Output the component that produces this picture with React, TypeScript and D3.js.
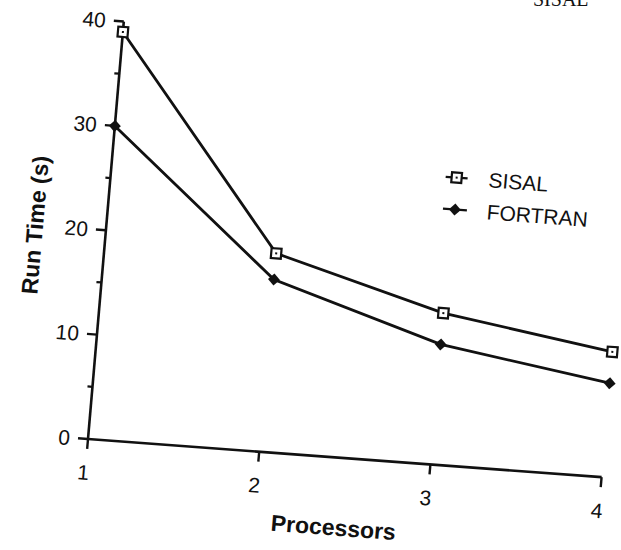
import * as d3 from 'd3';

const processors = [1, 2, 3, 4];
const sisalTimes = [39, 19, 14.5, 12];
const fortranTimes = [30, 16.5, 11.5, 9];
const yTicks = [0, 10, 20, 30, 40];
const yMinorTicks = [5, 15, 25, 35];
const xTicks = [1, 2, 3, 4];

// the scanned figure is slightly tilted, so the plot sits in a skewed frame
const origin = { x: 88, y: 439 };
const xLen = 515;
const yLen = 419;
const xAngle = (4.25 * Math.PI) / 180;
const yAngle = (4.9 * Math.PI) / 180;
const frame = `matrix(${Math.cos(xAngle)},${Math.sin(xAngle)},${-Math.sin(yAngle)},${Math.cos(yAngle)},${origin.x},${origin.y})`;

const font = '"Liberation Sans", Arial, Helvetica, sans-serif';
const ink = '#111';

function Square({ x, y }: { x: number; y: number }) {
  return (
    <g transform={`translate(${x},${y})`}>
      <rect x={-5} y={-5} width={10} height={10} fill="#fff" stroke={ink} strokeWidth={2.2} />
      <rect x={-1} y={-1} width={2} height={2} fill={ink} />
    </g>
  );
}

function Diamond({ x, y }: { x: number; y: number }) {
  return <path d={`M${x},${y - 6}L${x + 6},${y}L${x},${y + 6}L${x - 6},${y}Z`} fill={ink} />;
}

export default function App() {
  const x = d3.scaleLinear().domain([1, 4]).range([0, xLen]);
  const y = d3.scaleLinear().domain([0, 40]).range([0, -yLen]);

  const sisal = processors.map((p, i) => [x(p), y(sisalTimes[i])] as [number, number]);
  const fortran = processors.map((p, i) => [x(p), y(fortranTimes[i])] as [number, number]);
  const line = d3.line();

  return (
    <svg width={621} height={550} style={{ position: 'absolute', left: 0, top: 0, background: '#fff' }}>
      <text x={533} y={6} fontFamily="'Liberation Serif', serif" fontSize={20} fill={ink}>
        SISAL
      </text>
      <g transform={frame} fontFamily={font} fill={ink}>
        {/* axes */}
        <line x1={0} y1={0} x2={xLen} y2={0} stroke={ink} strokeWidth={2.6} />
        <line x1={0} y1={y(40)} x2={0} y2={0} stroke={ink} strokeWidth={2.6} />
        {yTicks.map((t) => (
          <g key={t}>
            <line x1={-10} y1={y(t)} x2={0} y2={y(t)} stroke={ink} strokeWidth={2.4} />
            <text x={-18} y={y(t)} dy="0.35em" textAnchor="end" fontSize={21}>
              {t}
            </text>
          </g>
        ))}
        {yMinorTicks.map((t) => (
          <line key={t} x1={-5} y1={y(t)} x2={0} y2={y(t)} stroke={ink} strokeWidth={2.2} />
        ))}
        {xTicks.map((t) => (
          <g key={t}>
            <line x1={x(t)} y1={0} x2={x(t)} y2={10} stroke={ink} strokeWidth={2.4} />
            <text x={x(t) - 2} y={41} textAnchor="middle" fontSize={21}>
              {t}
            </text>
          </g>
        ))}
        <text x={252} y={78} textAnchor="middle" fontSize={23} fontWeight={600}>
          Processors
        </text>
        <text
          transform={`translate(-71,${y(20)}) rotate(-90)`}
          textAnchor="middle"
          dy="0.35em"
          fontSize={23}
          fontWeight={600}
        >
          Run Time (s)
        </text>

        {/* series */}
        <path d={line(sisal) ?? ''} fill="none" stroke={ink} strokeWidth={2.8} />
        <path d={line(fortran) ?? ''} fill="none" stroke={ink} strokeWidth={2.8} />
        {sisal.map(([px, py], i) => (
          <Square key={i} x={px} y={py} />
        ))}
        {fortran.map(([px, py], i) => (
          <Diamond key={i} x={px} y={py} />
        ))}

        {/* legend */}
        <g transform="translate(345,-288)">
          <line x1={-11} y1={0} x2={11} y2={0} stroke={ink} strokeWidth={2.2} />
          <Square x={0} y={0} />
          <text x={32} y={0} dy="0.35em" fontSize={21}>
            SISAL
          </text>
        </g>
        <g transform="translate(346,-256)">
          <line x1={-12} y1={0} x2={12} y2={0} stroke={ink} strokeWidth={2.2} />
          <Diamond x={0} y={0} />
          <text x={32} y={0} dy="0.35em" fontSize={21}>
            FORTRAN
          </text>
        </g>
      </g>
    </svg>
  );
}
